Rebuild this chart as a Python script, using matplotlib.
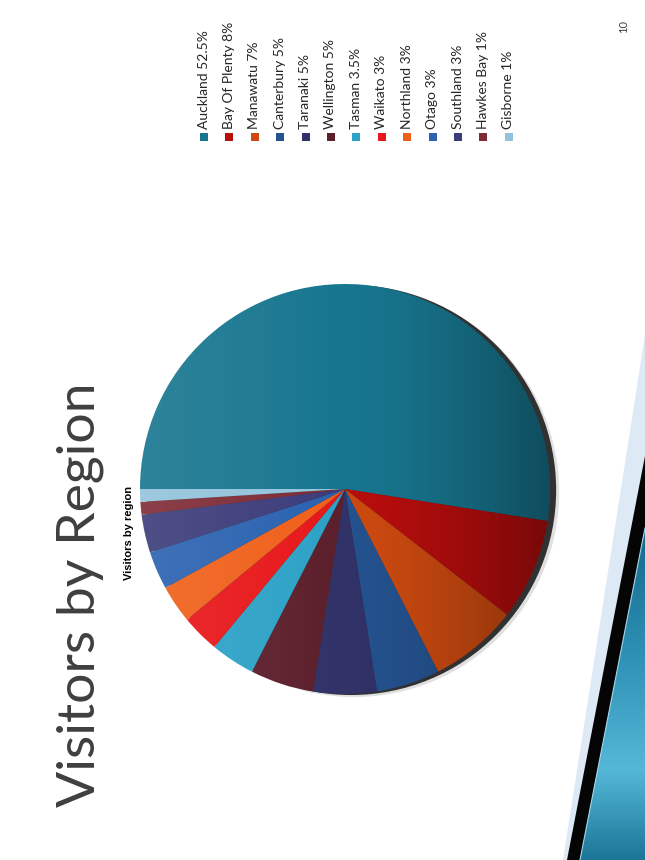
import numpy as np
import matplotlib.pyplot as plt
from matplotlib.patches import Polygon, Circle, Rectangle
from matplotlib.colors import to_rgb

# data
regions = ['Auckland', 'Bay Of Plenty', 'Manawatu', 'Canterbury', 'Taranaki',
           'Wellington', 'Tasman', 'Waikato', 'Northland', 'Otago',
           'Southland', 'Hawkes Bay', 'Gisborne']
share = [52.5, 8, 7, 5, 5, 5, 3.5, 3, 3, 3, 3, 1, 1]
colours = ['#17768f', '#b80d0d', '#cc4a10', '#24528f', '#303268',
           '#5c1f2c', '#2da2c6', '#e8171a', '#f0601a', '#2a62b0',
           '#3b3c7a', '#7e2b36', '#93c3dc']
title = 'Visitors by Region'
subtitle = 'Visitors by region'
page_no = '10'

W, H = 645, 860
fig = plt.figure(figsize=(W / 100, H / 100), dpi=100)

# whole slide in pixel coords (slide is turned on its side)
bg = fig.add_axes([0, 0, 1, 1])
bg.set_xlim(0, W)
bg.set_ylim(H, 0)
bg.axis('off')

# corner decoration
bg.add_patch(Polygon([(645, 335), (645, 860), (563, 860)], fc='#dde9f4', ec='none'))
bg.add_patch(Polygon([(645, 456), (645, 860), (567, 860)], fc='#050505', ec='none'))
tri = Polygon([(645, 528), (645, 860), (580, 860)], fc='none', ec='none')
bg.add_patch(tri)
ys = np.linspace(528, 860, 200)
stops_y = [528, 650, 770, 860]
stops_c = [to_rgb(c) for c in ['#16688a', '#2c8fb4', '#55b8d8', '#1c7698']]
grad = np.stack([np.interp(ys, stops_y, [c[k] for c in stops_c]) for k in range(3)], axis=1)
grad = np.repeat(grad[:, None, :], 10, axis=1)
im = bg.imshow(grad, extent=(575, 645, 860, 528), aspect='auto', origin='upper', zorder=1)
im.set_clip_path(tri)
bg.plot([645, 580], [528, 860], color='#a8d8ea', lw=0.8, zorder=2)
bg.set_xlim(0, W)
bg.set_ylim(H, 0)

# texts
bg.text(94, 807, title, rotation=90, rotation_mode='anchor', ha='left', va='baseline',
        fontsize=38.5, family='Lato', color='#3f3f3f')
bg.text(131.5, 580, subtitle, rotation=90, rotation_mode='anchor', ha='left', va='baseline',
        fontsize=8, fontweight='bold', family='Liberation Sans', color='black')
bg.text(627, 33, page_no, rotation=90, rotation_mode='anchor', ha='left', va='baseline',
        fontsize=8, family='Lato', color='#404040')

# legend
x0, dx = 204, 25.4
for i, (name, v, c) in enumerate(zip(regions, share, colours)):
    x = x0 + i * dx
    bg.add_patch(Rectangle((x - 4, 132.5), 8, 8, fc=c, ec='none'))
    bg.text(x + 3.5, 129, f'{name} {v:g}%', rotation=90, rotation_mode='anchor',
            ha='left', va='baseline', fontsize=10, family='Lato', color='#262626')

# pie
cx, cy, r = 345, 489, 205
pax = fig.add_axes([(cx - r) / W, 1 - (cy + r) / H, 2 * r / W, 2 * r / H])
pax.add_patch(Circle((0.03, -0.005), 1.0, fc='#151515', ec='none', alpha=0.85, zorder=0, clip_on=False))
pax.add_patch(Circle((0.045, -0.015), 1.0, fc='#000000', ec='none', alpha=0.12, zorder=0, clip_on=False))
pax.pie(share, colors=colours, startangle=180, counterclock=False, radius=1,
        wedgeprops=dict(linewidth=0))

# shading over the pie: light on the left, dark on the right
xs = np.linspace(-1, 1, 300)
shade = np.zeros((2, 300, 4))
shade[:, :, :3] = np.where(xs < 0, 1.0, 0.0)[None, :, None]
shade[:, :, 3] = np.where(xs < 0, -xs * 0.10, xs ** 1.5 * 0.35)[None, :]
sim = pax.imshow(shade, extent=(-1, 1, -1, 1), aspect='auto', zorder=5)
sim.set_clip_path(Circle((0, 0), 1.0, transform=pax.transData))
pax.set_xlim(-1, 1)
pax.set_ylim(-1, 1)
pax.axis('off')

fig.savefig('out.png', dpi=100)
